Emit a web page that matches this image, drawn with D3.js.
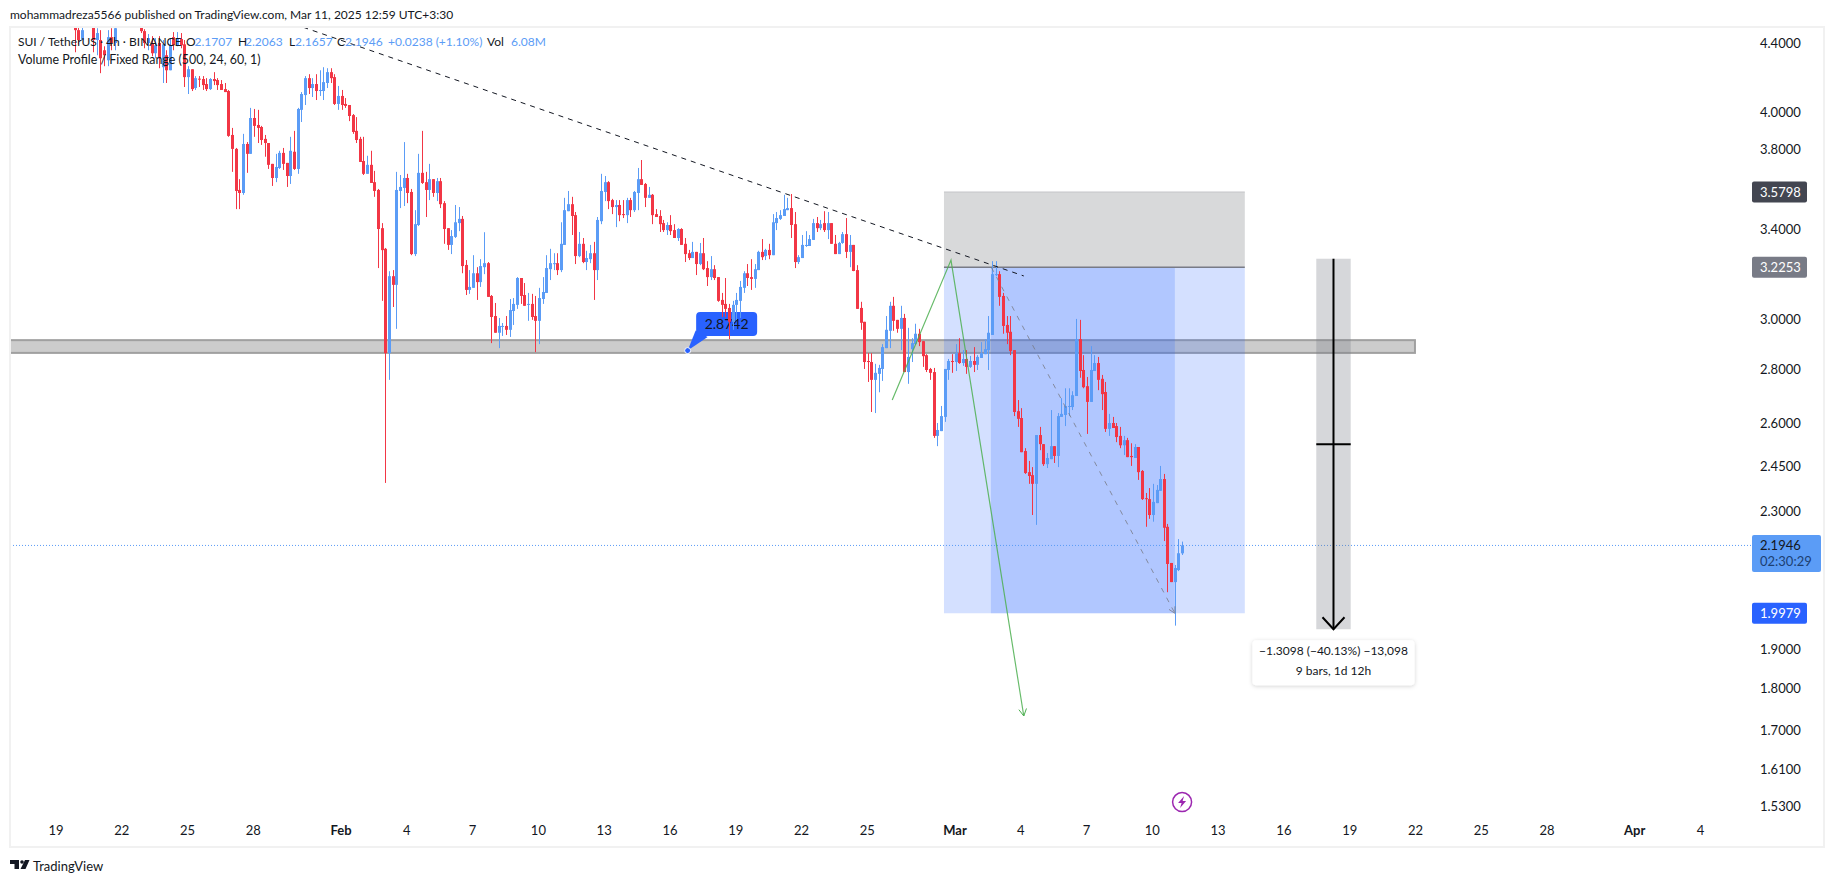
<!DOCTYPE html>
<html>
<head>
<meta charset="utf-8">
<script src="https://cdn.jsdelivr.net/npm/d3@7"></script>
<style>
  html, body { margin: 0; background: #fff; }
  svg { display: block; }
  text { font-family: Lato, "Noto Sans", sans-serif; fill: #131722; }
</style>
</head>
<body>
<div id="chart"></div>
<script>
// 4h candles, oldest first. First few sit above the visible pane.
const opens = [
4.541,4.479,4.418,4.554,4.529,4.510,4.418,4.418,4.356,4.296,
4.436,4.400,4.574,4.593,4.619,4.593,4.606,4.567,4.529,4.473,
4.400,4.400,4.338,4.400,4.255,4.326,4.237,4.436,4.386,4.424,
4.392,4.197,4.243,4.134,4.188,4.186,4.157,4.128,4.186,4.180,
4.157,4.128,4.117,3.874,3.800,3.590,3.575,3.826,3.774,3.966,
3.928,3.917,3.853,3.831,3.722,3.650,3.701,3.779,3.727,3.660,
3.785,3.696,4.011,4.094,4.191,4.134,4.157,4.117,4.117,4.163,
4.226,4.197,4.044,4.089,4.044,4.038,3.982,3.896,3.853,3.737,
3.671,3.717,3.629,3.590,3.405,3.309,2.864,3.186,3.148,3.585,
3.600,3.650,3.580,3.285,3.420,3.676,3.629,3.590,3.644,3.575,
3.634,3.525,3.405,3.327,3.364,3.429,3.449,3.236,3.126,3.135,
3.199,3.160,3.226,3.244,3.100,3.015,2.946,2.970,2.974,2.958,
3.036,3.062,3.178,3.104,3.062,3.066,3.015,2.995,3.087,3.113,
3.217,3.242,3.244,3.213,3.327,3.486,3.520,3.467,3.276,3.332,
3.249,3.262,3.289,3.213,3.438,3.580,3.629,3.540,3.506,3.516,
3.472,3.467,3.540,3.491,3.575,3.644,3.620,3.551,3.566,3.472,
3.463,3.429,3.396,3.420,3.396,3.359,3.401,3.332,3.289,3.267,
3.295,3.240,3.289,3.222,3.182,3.217,3.182,3.083,3.066,3.049,
2.991,3.062,3.079,3.135,3.199,3.182,3.174,3.213,3.295,3.276,
3.304,3.280,3.429,3.449,3.463,3.491,3.501,3.424,3.249,3.267,
3.322,3.322,3.350,3.429,3.405,3.429,3.396,3.429,3.332,3.285,
3.336,3.377,3.295,3.327,3.213,3.049,2.991,2.833,2.829,2.760,
2.783,2.802,2.884,2.954,3.058,2.999,2.962,3.007,2.790,2.880,
2.900,2.942,2.912,2.856,2.802,2.790,2.554,2.571,2.622,2.798,
2.833,2.829,2.864,2.825,2.841,2.810,2.833,2.818,2.845,2.860,
2.876,2.937,3.191,3.195,3.100,2.978,2.950,2.876,2.643,2.618,
2.501,2.429,2.419,2.390,2.557,2.525,2.456,2.473,2.518,2.484,
2.622,2.629,2.660,2.658,2.699,2.920,2.798,2.736,2.677,2.794,
2.825,2.764,2.714,2.579,2.600,2.589,2.554,2.521,2.539,2.484,
2.477,2.515,2.433,2.343,2.340,2.289,2.327,2.367,2.406,2.252,
2.142,2.086,2.121,2.1707];
const closes = [
4.479,4.418,4.479,4.529,4.554,4.418,4.461,4.308,4.326,4.436,
4.400,4.491,4.593,4.619,4.593,4.606,4.567,4.529,4.473,4.400,
4.430,4.338,4.386,4.308,4.392,4.237,4.386,4.386,4.430,4.386,
4.197,4.243,4.128,4.191,4.183,4.151,4.128,4.186,4.174,4.151,
4.123,4.111,3.869,3.800,3.585,3.575,3.826,3.774,3.966,3.923,
3.912,3.847,3.831,3.717,3.650,3.706,3.779,3.722,3.660,3.790,
3.696,4.016,4.100,4.191,4.134,4.157,4.117,4.123,4.168,4.226,
4.191,4.044,4.089,4.038,4.033,3.977,3.890,3.847,3.732,3.671,
3.717,3.625,3.585,3.401,3.303,2.864,3.186,3.148,3.590,3.605,
3.650,3.575,3.285,3.424,3.676,3.625,3.590,3.644,3.575,3.634,
3.520,3.401,3.327,3.368,3.433,3.449,3.231,3.126,3.139,3.199,
3.160,3.231,3.244,3.096,3.011,2.946,2.974,2.974,2.958,3.040,
3.066,3.178,3.100,3.058,3.066,3.011,2.995,3.091,3.117,3.222,
3.244,3.244,3.213,3.332,3.491,3.520,3.463,3.276,3.332,3.249,
3.267,3.289,3.213,3.444,3.585,3.629,3.535,3.506,3.516,3.467,
3.467,3.540,3.491,3.580,3.644,3.615,3.551,3.566,3.467,3.458,
3.424,3.396,3.420,3.391,3.359,3.401,3.327,3.285,3.267,3.295,
3.240,3.289,3.217,3.182,3.217,3.178,3.079,3.062,3.045,2.991,
3.062,3.083,3.139,3.199,3.178,3.174,3.217,3.295,3.271,3.304,
3.280,3.433,3.453,3.467,3.496,3.501,3.420,3.249,3.271,3.327,
3.327,3.354,3.429,3.405,3.424,3.396,3.429,3.332,3.285,3.336,
3.377,3.295,3.327,3.209,3.045,2.987,2.829,2.829,2.760,2.787,
2.806,2.888,2.958,3.058,2.995,2.962,3.007,2.790,2.849,2.904,
2.942,2.908,2.852,2.798,2.787,2.554,2.575,2.625,2.802,2.833,
2.829,2.864,2.825,2.841,2.810,2.833,2.818,2.849,2.864,2.880,
2.946,3.195,3.195,3.096,2.974,2.946,2.872,2.640,2.615,2.497,
2.426,2.416,2.390,2.557,2.525,2.456,2.477,2.518,2.484,2.625,
2.633,2.662,2.662,2.702,2.920,2.794,2.732,2.677,2.798,2.825,
2.760,2.706,2.579,2.600,2.582,2.550,2.521,2.539,2.480,2.480,
2.515,2.429,2.340,2.340,2.289,2.331,2.370,2.406,2.249,2.139,
2.086,2.127,2.171,2.1946];
const highs = [
4.574,4.529,4.541,4.593,4.593,4.541,4.491,4.479,4.380,4.479,
4.491,4.574,4.637,4.657,4.657,4.644,4.631,4.606,4.554,4.485,
4.455,4.442,4.430,4.442,4.418,4.356,4.430,4.467,4.467,4.461,
4.418,4.261,4.243,4.203,4.203,4.203,4.191,4.191,4.226,4.191,
4.180,4.163,4.123,3.912,3.805,3.644,3.880,3.836,4.022,4.016,
4.011,3.923,3.874,3.831,3.722,3.774,3.790,3.805,3.727,3.864,
3.896,4.022,4.111,4.203,4.214,4.191,4.214,4.237,4.255,4.249,
4.249,4.214,4.146,4.123,4.077,4.038,3.988,3.971,3.864,3.864,
3.764,3.790,3.686,3.595,3.429,3.313,3.208,3.213,3.681,3.665,
3.836,3.671,3.595,3.491,3.774,3.896,3.681,3.722,3.644,3.650,
3.650,3.535,3.405,3.396,3.516,3.506,3.463,3.258,3.213,3.280,
3.226,3.262,3.386,3.249,3.104,3.070,3.007,2.986,3.015,3.087,
3.091,3.182,3.178,3.156,3.113,3.109,3.100,3.135,3.182,3.280,
3.309,3.289,3.289,3.433,3.551,3.585,3.556,3.482,3.387,3.359,
3.300,3.327,3.341,3.458,3.671,3.660,3.634,3.546,3.540,3.540,
3.540,3.551,3.551,3.585,3.701,3.742,3.625,3.605,3.570,3.496,
3.491,3.444,3.433,3.467,3.424,3.405,3.405,3.359,3.304,3.341,
3.295,3.336,3.359,3.253,3.276,3.235,3.182,3.113,3.178,3.066,
3.079,3.113,3.165,3.208,3.240,3.262,3.240,3.300,3.354,3.309,
3.332,3.472,3.482,3.491,3.566,3.551,3.570,3.482,3.280,3.373,
3.391,3.373,3.449,3.458,3.444,3.486,3.482,3.429,3.373,3.341,
3.387,3.453,3.373,3.327,3.235,3.075,2.991,2.864,2.864,2.822,
2.818,2.900,3.015,3.075,3.096,2.999,3.058,3.024,2.966,2.924,
2.983,2.962,2.912,2.860,2.806,2.806,2.600,2.662,2.802,2.841,
2.860,2.900,2.924,2.876,2.876,2.853,2.888,2.856,2.908,2.920,
3.015,3.253,3.253,3.208,3.113,3.015,3.015,2.876,2.684,2.654,
2.511,2.467,2.446,2.557,2.586,2.525,2.494,2.647,2.518,2.636,
2.691,2.728,2.728,2.717,3.003,2.999,2.856,2.771,2.892,2.856,
2.849,2.779,2.752,2.633,2.622,2.600,2.586,2.554,2.547,2.528,
2.525,2.515,2.436,2.360,2.376,2.390,2.386,2.450,2.423,2.261,
2.142,2.136,2.214,2.2063];
const lows = [
4.344,4.392,4.455,4.510,4.510,4.344,4.326,4.220,4.261,4.261,
4.356,4.356,4.541,4.554,4.554,4.541,4.529,4.516,4.461,4.368,
4.356,4.320,4.308,4.249,4.163,4.163,4.237,4.356,4.380,4.368,
4.140,4.100,4.117,4.123,4.140,4.123,4.117,4.123,4.151,4.123,
4.123,4.111,3.864,3.681,3.496,3.496,3.566,3.676,3.774,3.864,
3.831,3.821,3.759,3.696,3.610,3.629,3.696,3.691,3.605,3.620,
3.691,3.671,3.944,4.038,4.100,4.083,4.066,4.089,4.066,4.134,
4.163,4.038,4.011,4.011,4.022,3.949,3.880,3.831,3.732,3.665,
3.671,3.625,3.556,3.222,3.079,2.393,2.760,3.053,2.962,3.501,
3.511,3.525,3.280,3.276,3.415,3.620,3.458,3.540,3.556,3.535,
3.501,3.332,3.304,3.285,3.359,3.391,3.199,3.104,3.109,3.135,
3.083,3.139,3.195,3.096,2.904,2.946,2.884,2.933,2.937,2.929,
2.978,3.045,3.066,3.058,2.995,2.999,2.868,2.900,3.066,3.113,
3.169,3.213,3.191,3.204,3.327,3.486,3.373,3.240,3.271,3.244,
3.213,3.244,3.083,3.169,3.424,3.535,3.496,3.472,3.410,3.438,
3.453,3.429,3.458,3.482,3.491,3.615,3.506,3.551,3.424,3.458,
3.387,3.387,3.373,3.373,3.359,3.345,3.327,3.249,3.258,3.267,
3.191,3.235,3.213,3.143,3.169,3.169,3.075,3.011,3.011,2.920,
2.958,2.999,3.007,3.113,3.143,3.126,3.135,3.213,3.258,3.258,
3.262,3.280,3.396,3.444,3.463,3.491,3.359,3.222,3.240,3.267,
3.318,3.322,3.350,3.387,3.396,3.387,3.354,3.332,3.285,3.285,
3.332,3.267,3.226,3.208,3.045,2.958,2.802,2.752,2.640,2.636,
2.713,2.756,2.884,2.884,2.954,2.946,2.876,2.790,2.745,2.829,
2.896,2.892,2.810,2.790,2.760,2.547,2.518,2.571,2.604,2.760,
2.787,2.794,2.822,2.814,2.783,2.806,2.790,2.798,2.845,2.860,
2.798,2.937,3.186,3.058,2.942,2.900,2.856,2.625,2.586,2.497,
2.423,2.390,2.289,2.258,2.504,2.450,2.443,2.473,2.460,2.446,
2.622,2.589,2.625,2.647,2.699,2.768,2.728,2.561,2.677,2.794,
2.721,2.647,2.568,2.554,2.582,2.532,2.511,2.487,2.480,2.450,
2.477,2.403,2.337,2.252,2.277,2.268,2.327,2.367,2.208,2.057,
2.086,1.964,2.118,2.1657];

// time axis: days counted from Jan 19
const dayTicks = [0,3,6,9,13,16,19,22,25,28,31,34,37,41,44,47,50,53,56,59,62,65,68,72,75];
const dayLabels = ["19","22","25","28","Feb","4","7","10","13","16","19","22","25","Mar","4","7","10","13","16","19","22","25","28","Apr","4"];
const lastBarDay = 51.38;

const priceTicks = [4.4,4.0,3.8,3.4,3.0,2.8,2.6,2.45,2.3,1.9,1.8,1.7,1.61,1.53];

// drawings, in days and prices
const lastPrice = 2.1946;
const stopPrice = 3.5798, entryPrice = 3.2253, targetPrice = 1.9979;
const positionDays = [40.52, 54.24];
const positionInnerDays = [42.66, 51.05];
const bandPrices = [2.916, 2.865];
const bandDays = [-3, 62];
const trendDays = [11.3, 44.16], trendPrices = [4.497, 3.187];
const greenDays = [38.16, 40.84, 44.16], greenPrices = [2.684, 3.258, 1.733];
const greyDays = [42.68, 51.05], greyPrices = [3.2253, 1.9979];
const measureDays = [57.5, 59.07], measurePrices = [3.264, 1.9542], measureMid = 2.525;
const calloutDay = 28.83, calloutPrice = 2.8742;
const boltDay = 51.38, boltPrice = 1.534;

const width = 1835, height = 883;
const red = "#f23645", blue = "#5b9cf6";

const svg = d3.select("#chart").append("svg")
    .attr("width", width)
    .attr("height", height);

const x = d3.scaleLinear().domain([0, 75]).range([55.5, 1700]);
const y = d3.scaleLog().domain([4.4, 1.53]).range([43, 806]);

const candles = closes.map(function(c, i) {
  return {
    day: lastBarDay - (closes.length - 1 - i) / 6,
    open: opens[i], high: highs[i], low: lows[i], close: c
  };
});

svg.append("clipPath").attr("id", "pane")
  .append("rect").attr("x", 10).attr("y", 27).attr("width", 1814).attr("height", 820);

const pane = svg.append("g").attr("clip-path", "url(#pane)");

// long/short position boxes
pane.append("rect")
    .attr("x", x(positionDays[0])).attr("width", x(positionDays[1]) - x(positionDays[0]))
    .attr("y", y(stopPrice)).attr("height", y(entryPrice) - y(stopPrice))
    .attr("fill", "#d8d9da");
pane.append("line")
    .attr("x1", x(positionDays[0])).attr("x2", x(positionDays[1]))
    .attr("y1", y(stopPrice)).attr("y2", y(stopPrice))
    .attr("stroke", "#c4c5c8");

// grey band is under the blue box
pane.append("rect")
    .attr("x", x(bandDays[0])).attr("width", x(bandDays[1]) - x(bandDays[0]))
    .attr("y", y(bandPrices[0])).attr("height", y(bandPrices[1]) - y(bandPrices[0]))
    .attr("fill", "#cccccc").attr("stroke", "#a0a0a0").attr("stroke-width", 2);

pane.append("rect")
    .attr("x", x(positionDays[0])).attr("width", x(positionDays[1]) - x(positionDays[0]))
    .attr("y", y(entryPrice)).attr("height", y(targetPrice) - y(entryPrice))
    .attr("fill", "#2962ff").attr("fill-opacity", 0.2);
pane.append("rect")
    .attr("x", x(positionInnerDays[0])).attr("width", x(positionInnerDays[1]) - x(positionInnerDays[0]))
    .attr("y", y(entryPrice)).attr("height", y(targetPrice) - y(entryPrice))
    .attr("fill", "#2962ff").attr("fill-opacity", 0.2);
pane.append("line")
    .attr("x1", x(positionDays[0])).attr("x2", x(positionDays[1]))
    .attr("y1", y(entryPrice)).attr("y2", y(entryPrice))
    .attr("stroke", "#787b86").attr("stroke-width", 1.5);

// last price line
pane.append("line")
    .attr("x1", 10).attr("x2", 1752)
    .attr("y1", y(lastPrice)).attr("y2", y(lastPrice))
    .attr("stroke", blue).attr("stroke-width", 1).attr("stroke-dasharray", "1 2");

// callout with the price
const cx = x(calloutDay), cy = y(calloutPrice);
pane.append("path")
    .attr("d", `M${cx},${cy} L${cx + 8},${cy - 20} L${cx + 20},${cy - 13.5} Z`)
    .attr("fill", "#2962ff");
pane.append("rect")
    .attr("x", cx + 8.5).attr("y", cy - 38.5).attr("width", 61).attr("height", 24).attr("rx", 4)
    .attr("fill", "#2962ff");
pane.append("circle")
    .attr("cx", cx).attr("cy", cy).attr("r", 3)
    .attr("fill", "#2962ff").attr("stroke", "#fff").attr("stroke-width", 1);
pane.append("text")
    .attr("x", cx + 39).attr("y", cy - 22)
    .attr("text-anchor", "middle").attr("font-size", 14)
    .text("2.8742");

// candles
pane.append("g").selectAll("line")
    .data(candles)
    .join("line")
      .attr("x1", d => Math.round(x(d.day)) + 0.5)
      .attr("x2", d => Math.round(x(d.day)) + 0.5)
      .attr("y1", d => y(d.high))
      .attr("y2", d => y(d.low))
      .attr("stroke", d => d.close >= d.open ? blue : red)
      .attr("stroke-width", 1);

pane.append("g").selectAll("rect")
    .data(candles)
    .join("rect")
      .attr("x", d => Math.round(x(d.day)) - 1)
      .attr("width", 3)
      .attr("y", d => y(Math.max(d.open, d.close)))
      .attr("height", d => Math.max(1, Math.abs(y(d.open) - y(d.close))))
      .attr("fill", d => d.close >= d.open ? blue : red);

// dashed trend line
pane.append("line")
    .attr("x1", x(trendDays[0])).attr("y1", y(trendPrices[0]))
    .attr("x2", x(trendDays[1])).attr("y2", y(trendPrices[1]))
    .attr("stroke", "#131722").attr("stroke-width", 1).attr("stroke-dasharray", "5 5");

// open arrow head at the end of a line
function arrowHead(x0, y0, x1, y1, size) {
  const a = Math.atan2(y1 - y0, x1 - x0);
  const s = 0.5;
  return `M${x1 - size * Math.cos(a - s)},${y1 - size * Math.sin(a - s)} L${x1},${y1} L${x1 - size * Math.cos(a + s)},${y1 - size * Math.sin(a + s)}`;
}

// grey dashed line
pane.append("line")
    .attr("x1", x(greyDays[0])).attr("y1", y(greyPrices[0]))
    .attr("x2", x(greyDays[1])).attr("y2", y(greyPrices[1]))
    .attr("stroke", "#787b86").attr("stroke-opacity", 0.8).attr("stroke-width", 1).attr("stroke-dasharray", "5 6");
pane.append("path")
    .attr("d", arrowHead(x(greyDays[0]), y(greyPrices[0]), x(greyDays[1]), y(greyPrices[1]), 7))
    .attr("fill", "none").attr("stroke", "#787b86").attr("stroke-opacity", 0.8);

// green path
const greenLine = d3.line().x(d => x(d[0])).y(d => y(d[1]));
pane.append("path")
    .attr("d", greenLine(d3.zip(greenDays, greenPrices)))
    .attr("fill", "none").attr("stroke", "#4caf50").attr("stroke-opacity", 0.85).attr("stroke-width", 1.2);
pane.append("path")
    .attr("d", arrowHead(x(greenDays[1]), y(greenPrices[1]), x(greenDays[2]), y(greenPrices[2]), 8))
    .attr("fill", "none").attr("stroke", "#4caf50").attr("stroke-width", 1);

// measure tool
const mx0 = x(measureDays[0]), mx1 = x(measureDays[1]), mc = (mx0 + mx1) / 2;
const my0 = y(measurePrices[0]), my1 = y(measurePrices[1]);
pane.append("rect")
    .attr("x", mx0).attr("width", mx1 - mx0).attr("y", my0).attr("height", my1 - my0)
    .attr("fill", "#787b86").attr("fill-opacity", 0.3);
pane.append("line")
    .attr("x1", mc).attr("x2", mc).attr("y1", my0).attr("y2", my1)
    .attr("stroke", "#000").attr("stroke-width", 2);
pane.append("line")
    .attr("x1", mx0).attr("x2", mx1).attr("y1", y(measureMid)).attr("y2", y(measureMid))
    .attr("stroke", "#000").attr("stroke-width", 2);
pane.append("path")
    .attr("d", `M${mc - 11},${my1 - 12} L${mc},${my1} L${mc + 11},${my1 - 12}`)
    .attr("fill", "none").attr("stroke", "#000").attr("stroke-width", 2);

const shadow = svg.append("filter").attr("id", "soft")
    .attr("x", "-10%").attr("y", "-20%").attr("width", "120%").attr("height", "150%");
shadow.append("feDropShadow")
    .attr("dx", 0).attr("dy", 1).attr("stdDeviation", 2)
    .attr("flood-color", "#000").attr("flood-opacity", 0.18);
pane.append("rect")
    .attr("x", mc - 81).attr("y", my1 + 11).attr("width", 162).attr("height", 45).attr("rx", 4)
    .attr("fill", "#fff").attr("filter", "url(#soft)");
pane.append("text")
    .attr("x", mc).attr("y", my1 + 26).attr("text-anchor", "middle").attr("font-size", 12)
    .text("\u22121.3098 (\u221240.13%) \u221213,098");
pane.append("text")
    .attr("x", mc).attr("y", my1 + 46).attr("text-anchor", "middle").attr("font-size", 12)
    .text("9 bars, 1d 12h");

// lightning badge
const bx = x(boltDay), by = y(boltPrice) - 2;
pane.append("circle")
    .attr("cx", bx).attr("cy", by).attr("r", 9.5)
    .attr("fill", "#fff").attr("stroke", "#9c27b0").attr("stroke-width", 1.5);
pane.append("path")
    .attr("d", `M${bx + 2},${by - 6} L${bx - 4},${by + 1} L${bx - 0.5},${by + 1} L${bx - 2},${by + 6} L${bx + 4},${by - 1} L${bx + 0.5},${by - 1} Z`)
    .attr("fill", "#9c27b0");

// frame
svg.append("rect")
    .attr("x", 10).attr("y", 27).attr("width", 1814).attr("height", 820)
    .attr("fill", "none").attr("stroke", "#f1f1f1").attr("stroke-width", 2);

// axes
const axisY = svg.append("g")
    .attr("class", "axis axis-y")
    .attr("transform", "translate(1760,0)")
    .call(d3.axisRight(y).tickValues(priceTicks).tickFormat(d3.format(".4f")).tickSize(0).tickPadding(0));
axisY.select(".domain").remove();
axisY.selectAll("text").attr("font-size", 13).attr("font-family", null);

const axisX = svg.append("g")
    .attr("class", "axis axis-x")
    .attr("transform", "translate(0,823)")
    .call(d3.axisBottom(x).tickValues(dayTicks).tickFormat((d, i) => dayLabels[i]).tickSize(0).tickPadding(3));
axisX.select(".domain").remove();
axisX.selectAll("text").attr("font-size", 13).attr("font-family", null)
    .attr("font-weight", (d, i) => /^[A-Z]/.test(dayLabels[i]) ? 700 : 400);

// price tags on the right
const tags = [
  {price: stopPrice, fill: "#434651", w: 55},
  {price: entryPrice, fill: "#787b86", w: 55},
  {price: targetPrice, fill: "#2962ff", w: 55}
];
tags.forEach(function(t) {
  svg.append("rect")
      .attr("x", 1752).attr("y", y(t.price) - 10.5).attr("width", t.w).attr("height", 21).attr("rx", 2)
      .attr("fill", t.fill);
  svg.append("text")
      .attr("x", 1760).attr("y", y(t.price) + 4.5).attr("font-size", 13)
      .style("fill", "#fff")
      .text(t.price.toFixed(4));
});
svg.append("rect")
    .attr("x", 1752).attr("y", y(lastPrice) - 10.5).attr("width", 69).attr("height", 37).attr("rx", 2)
    .attr("fill", blue);
svg.append("text")
    .attr("x", 1760).attr("y", y(lastPrice) + 4.5).attr("font-size", 13)
    .text(lastPrice.toFixed(4));
svg.append("text")
    .attr("x", 1760).attr("y", y(lastPrice) + 20.5).attr("font-size", 13)
    .style("fill", "#1d3f72")
    .text("02:30:29");

// header and legend
svg.append("text").attr("x", 10).attr("y", 19).attr("font-size", 12)
    .text("mohammadreza5566 published on TradingView.com, Mar 11, 2025 12:59 UTC+3:30");

const legend = [
  ["SUI / TetherUS \u00b7 4h \u00b7 BINANCE", 18, "#131722"],
  ["O", 186, "#131722"], ["2.1707", 194.5, blue],
  ["H", 238, "#131722"], ["2.2063", 245, blue],
  ["L", 289, "#131722"], ["2.1657", 295, blue],
  ["C", 337, "#131722"], ["2.1946", 345, blue],
  ["+0.0238 (+1.10%)", 388, blue],
  ["Vol", 487, "#131722"], ["6.08M", 511, blue]
];
svg.append("g").selectAll("text")
    .data(legend)
    .join("text")
      .attr("x", d => d[1]).attr("y", 46).attr("font-size", 12)
      .style("fill", d => d[2])
      .text(d => d[0]);
svg.append("text").attr("x", 18).attr("y", 64).attr("font-size", 12.4)
    .text("Volume Profile / Fixed Range (500, 24, 60, 1)");

// footer logo
svg.append("path")
    .attr("d", "M10,860 h9 v9 h-4.5 v-5 h-4.5 Z M25,860 h4.5 l-4,9 h-5 Z")
    .attr("fill", "#131722");
svg.append("circle").attr("cx", 22).attr("cy", 862).attr("r", 1.8).attr("fill", "#131722");
svg.append("text").attr("x", 33).attr("y", 871).attr("font-size", 13)
    .text("TradingView");
</script>
</body>
</html>
